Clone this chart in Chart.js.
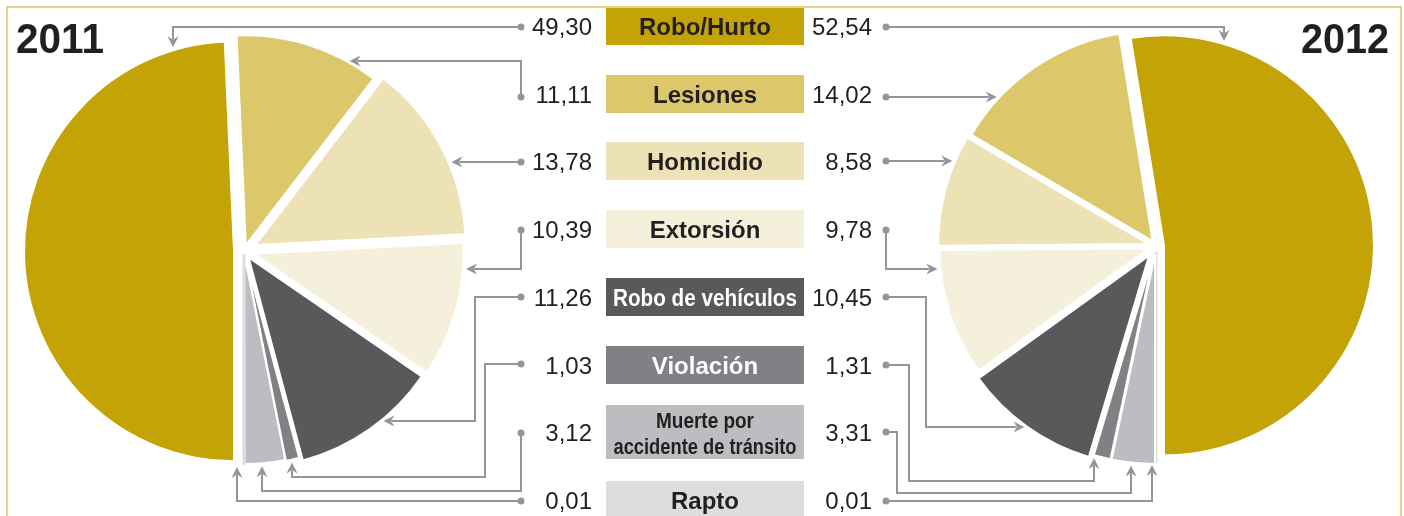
<!DOCTYPE html>
<html lang="es">
<head>
<meta charset="UTF-8">
<title>Delitos 2011 - 2012</title>
<script src="https://cdn.jsdelivr.net/npm/chart.js"></script>
<style>
  body { margin: 0; background: #fff; }
  #lienzo { position: relative; width: 1404px; height: 516px; overflow: hidden; }
  #lienzo canvas { position: absolute; }
  #capa { left: 0; top: 0; }
  #torta2011 { left: 0; top: 0; }
  #torta2012 { left: 916px; top: 0; }
</style>
</head>
<body>
<div id="lienzo">
  <canvas id="capa" width="1404" height="516"></canvas>
  <canvas id="torta2011" width="488" height="502"></canvas>
  <canvas id="torta2012" width="480" height="492"></canvas>
</div>

<script>
// datos
const categorias = ['Robo/Hurto', 'Lesiones', 'Homicidio', 'Extorsión', 'Robo de vehículos', 'Violación', 'Muerte por accidente de tránsito', 'Rapto'];
const valores2011 = [49.30, 11.11, 13.78, 10.39, 11.26, 1.03, 3.12, 0.01];
const valores2012 = [52.54, 14.02, 8.58, 9.78, 10.45, 1.31, 3.31, 0.01];
const anios = ['2011', '2012'];

// estilos
const colores = ['#c4a306', '#dcc76b', '#ede2b5', '#f5f0dc', '#58595b', '#808184', '#bcbdc0', '#dcdddf'];
const colorTextoCaja = ['#231f20', '#231f20', '#231f20', '#231f20', '#ffffff', '#ffffff', '#231f20', '#231f20'];
const separacion2011 = [10, 6, 13, 10, 8, 4, 3, 3];
const separacion2012 = [8, 6, 8, 7, 12, 8, 8, 6];
const gris = '#939598';
const fuente = '"Liberation Sans", Arial, Helvetica, sans-serif';

// separa cada porción de la torta a lo largo de su ángulo medio
const separar = {
  id: 'separar',
  afterDatasetsUpdate(chart, args, opts) {
    const meta = chart.getDatasetMeta(0);
    meta.data.forEach(function (arco, i) {
      const medio = (arco.startAngle + arco.endAngle) / 2;
      arco.x += Math.cos(medio) * opts.distancias[i];
      arco.y += Math.sin(medio) * opts.distancias[i];
    });
  }
};

function crearTorta(id, valores, distancias, invertir) {
  let datos = valores.slice();
  let fondos = colores.slice();
  let bordes = colores.map(function (c, i) { return i === 7 ? c : '#ffffff'; });
  let anchos = colores.map(function (c, i) { return i === 7 ? 3 : 2; });
  let dist = distancias.slice();
  let etiquetas = categorias.slice();
  if (invertir) {
    datos.reverse(); fondos.reverse(); bordes.reverse(); anchos.reverse(); dist.reverse(); etiquetas.reverse();
  }
  return new Chart(document.getElementById(id), {
    type: 'pie',
    data: {
      labels: etiquetas,
      datasets: [{
        data: datos,
        backgroundColor: fondos,
        borderColor: bordes,
        borderWidth: anchos
      }]
    },
    options: {
      responsive: false,
      animation: false,
      events: [],
      radius: 210,
      rotation: 180,
      layout: { padding: 0 },
      plugins: {
        legend: { display: false },
        tooltip: { enabled: false },
        separar: { distancias: dist }
      }
    },
    plugins: [separar]
  });
}

const torta2011 = crearTorta('torta2011', valores2011, separacion2011, false);
const torta2012 = crearTorta('torta2012', valores2012, separacion2012, true);

// ---- capa de textos, cajas y guías ----
const ctx = document.getElementById('capa').getContext('2d');

const filaY = [26.5, 94, 161, 229, 297, 365, 432, 500];
const altoCaja = [37, 38, 38, 38, 38, 38, 54, 38];
const cajaX = 606, cajaAncho = 198;

// recorridos de las guías: el primer punto es el punto gris junto al valor
const guias2011 = [
  { puntos: [[521, 27], [173, 27]], llega: 'abajo' },
  { puntos: [[521, 97], [521, 61]], llega: 'izquierda' },
  { puntos: [[521, 162]], llega: 'izquierda' },
  { puntos: [[521, 230], [521, 269]], llega: 'izquierda' },
  { puntos: [[521, 297], [475, 297], [475, 421]], llega: 'izquierda' },
  { puntos: [[521, 364], [485, 364], [485, 477], [292, 477]], llega: 'arriba' },
  { puntos: [[521, 433], [521, 491], [262, 491]], llega: 'arriba' },
  { puntos: [[521, 501], [237, 501]], llega: 'arriba' }
];
const guias2012 = [
  { puntos: [[886, 27], [1224, 27]], llega: 'abajo' },
  { puntos: [[886, 97]], llega: 'derecha' },
  { puntos: [[886, 161]], llega: 'derecha' },
  { puntos: [[886, 230], [886, 269]], llega: 'derecha' },
  { puntos: [[886, 297], [926, 297], [926, 427]], llega: 'derecha' },
  { puntos: [[886, 365], [909, 365], [909, 481], [1094, 481]], llega: 'arriba' },
  { puntos: [[886, 432], [897, 432], [897, 493], [1131, 493]], llega: 'arriba' },
  { puntos: [[886, 501], [1152, 501]], llega: 'arriba' }
];

function formato(v) {
  return v.toFixed(2).replace('.', ',');
}

function arcoEnPagina(grafico, i, invertido) {
  const meta = grafico.getDatasetMeta(0);
  const arco = meta.data[invertido ? meta.data.length - 1 - i : i];
  const lienzo = grafico.canvas;
  return { x: arco.x + lienzo.offsetLeft, y: arco.y + lienzo.offsetTop, r: arco.outerRadius };
}

function punta(x, y, dx, dy) {
  // flecha con muesca, (x, y) es la punta
  const largo = 11, medio = 5.5, muesca = 3.5;
  const px = -dy, py = dx;
  ctx.beginPath();
  ctx.moveTo(x, y);
  ctx.lineTo(x - dx * largo + px * medio, y - dy * largo + py * medio);
  ctx.lineTo(x - dx * (largo - muesca), y - dy * (largo - muesca));
  ctx.lineTo(x - dx * largo - px * medio, y - dy * largo - py * medio);
  ctx.closePath();
  ctx.fill();
}

function dibujarGuia(guia, arco) {
  const pts = guia.puntos;
  const ult = pts[pts.length - 1];
  const hueco = 3;
  let fin, dir;
  if (guia.llega === 'abajo') {
    fin = [ult[0], arco.y - Math.sqrt(arco.r * arco.r - Math.pow(ult[0] - arco.x, 2)) - hueco];
    dir = [0, 1];
  } else if (guia.llega === 'arriba') {
    fin = [ult[0], arco.y + Math.sqrt(arco.r * arco.r - Math.pow(ult[0] - arco.x, 2)) + hueco];
    dir = [0, -1];
  } else if (guia.llega === 'izquierda') {
    fin = [arco.x + Math.sqrt(arco.r * arco.r - Math.pow(ult[1] - arco.y, 2)) + hueco, ult[1]];
    dir = [-1, 0];
  } else {
    fin = [arco.x - Math.sqrt(arco.r * arco.r - Math.pow(ult[1] - arco.y, 2)) - hueco, ult[1]];
    dir = [1, 0];
  }
  ctx.strokeStyle = gris;
  ctx.fillStyle = gris;
  ctx.lineWidth = 2;
  ctx.beginPath();
  ctx.moveTo(pts[0][0], pts[0][1]);
  for (let k = 1; k < pts.length; k++) ctx.lineTo(pts[k][0], pts[k][1]);
  ctx.lineTo(fin[0] - dir[0] * 8, fin[1] - dir[1] * 8);
  ctx.stroke();
  punta(fin[0], fin[1], dir[0], dir[1]);
  ctx.beginPath();
  ctx.arc(pts[0][0], pts[0][1], 3.5, 0, Math.PI * 2);
  ctx.fill();
}

// marco
ctx.strokeStyle = '#e5d38f';
ctx.lineWidth = 2;
ctx.strokeRect(7, 7, 1394, 560);

// años
ctx.fillStyle = '#231f20';
ctx.font = 'bold 42px ' + fuente;
ctx.textAlign = 'left';
ctx.fillText(anios[0], 16, 53, 88);
ctx.textAlign = 'right';
ctx.fillText(anios[1], 1389, 53, 88);

// cajas de categorías
ctx.textAlign = 'center';
categorias.forEach(function (cat, i) {
  const alto = altoCaja[i];
  ctx.fillStyle = colores[i];
  ctx.fillRect(cajaX, filaY[i] - alto / 2, cajaAncho, alto);
  ctx.fillStyle = colorTextoCaja[i];
  const centro = cajaX + cajaAncho / 2;
  if (i === 6) {
    ctx.font = 'bold 22px ' + fuente;
    ctx.fillText('Muerte por', centro, filaY[i] - 4, 98);
    ctx.fillText('accidente de tránsito', centro, filaY[i] + 22, 183);
  } else if (i === 4) {
    ctx.font = 'bold 23px ' + fuente;
    ctx.fillText(cat, centro, filaY[i] + 8.5, 184);
  } else {
    ctx.font = 'bold 24px ' + fuente;
    ctx.fillText(cat, centro, filaY[i] + 8.6);
  }
});

// valores
ctx.fillStyle = '#231f20';
ctx.font = '24px ' + fuente;
ctx.textAlign = 'right';
valores2011.forEach(function (v, i) {
  ctx.fillText(formato(v), 592, filaY[i] + 8.6);
});
valores2012.forEach(function (v, i) {
  ctx.fillText(formato(v), 872, filaY[i] + 8.6);
});

// guías con flechas hacia cada porción
guias2011.forEach(function (g, i) { dibujarGuia(g, arcoEnPagina(torta2011, i, false)); });
guias2012.forEach(function (g, i) { dibujarGuia(g, arcoEnPagina(torta2012, i, true)); });
</script>
</body>
</html>
